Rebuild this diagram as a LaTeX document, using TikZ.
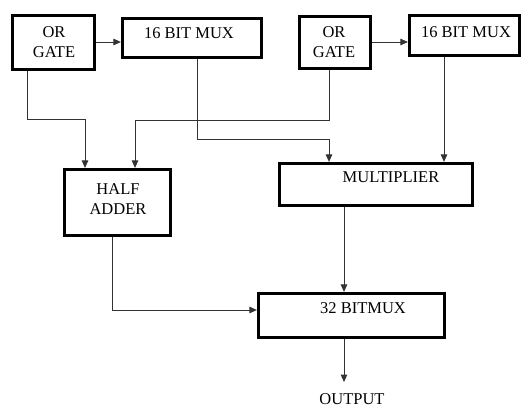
\documentclass[tikz,border=0pt]{standalone}
\usepackage{fontspec}
\setmainfont{Liberation Serif}
\usetikzlibrary{arrows.meta}
\begin{document}
\begin{tikzpicture}[x=1pt,y=-1pt,
  box/.style={draw=black,line width=3.2pt,fill=white,inner sep=0pt},
  lbl/.style={font=\fontsize{16.5}{20}\selectfont,inner sep=0pt,align=center},
  arr/.style={draw=black!80,line width=1pt,-{Triangle[length=7.5pt,width=6.5pt]}}]
\useasboundingbox (0,0) rectangle (522,407);
% boxes
\node[box,minimum width=82pt,minimum height=54pt] (or1) at (53.5,42.5) {};
\node[box,minimum width=139pt,minimum height=39pt] (mux1) at (192,38) {};
\node[box,minimum width=71pt,minimum height=52pt] (or2) at (335,42.5) {};
\node[box,minimum width=110pt,minimum height=40pt] (mux2) at (464.5,35.5) {};
\node[box,minimum width=106pt,minimum height=66pt] (ha) at (117.5,202.5) {};
\node[box,minimum width=193pt,minimum height=42pt] (mult) at (376,184.5) {};
\node[box,minimum width=186pt,minimum height=44pt] (mux32) at (351.5,315.5) {};
% labels
\node[lbl] (or1t) at (54,42) {OR\\GATE};
\node[lbl] (mux1t) at (189,33) {16 BIT MUX};
\node[lbl] (or2t) at (334,42) {OR\\GATE};
\node[lbl] (mux2t) at (466,32) {16 BIT MUX};
\node[lbl] (hat) at (118,199) {HALF\\ADDER};
\node[lbl] (multt) at (391,177) {MULTIPLIER};
\node[lbl] (mux32t) at (363,308) {32 BITMUX};
\node[lbl] (outt) at (352,399) {OUTPUT};
\coordinate (outtip) at (344,382);
% connectors
\draw[arr] (or1.east |- 0,42) -- (mux1.west |- 0,42);
\draw[arr] (or2.east |- 0,42) -- (mux2.west |- 0,42);
\draw[arr] (27,0 |- or1.south) |- (85,119) -- (85,0 |- ha.north);
\draw[arr] (329,0 |- or2.south) |- (135,120) -- (135,0 |- ha.north);
\draw[arr] (197,0 |- mux1.south) |- (329,139) -- (329,0 |- mult.north);
\draw[arr] (444,0 |- mux2.south) -- (444,0 |- mult.north);
\draw[arr] (344,0 |- mult.south) -- (344,0 |- mux32.north);
\draw[arr] (112,0 |- ha.south) |- (mux32.west |- 0,310);
\draw[arr] (344,0 |- mux32.south) -- (outtip);
\end{tikzpicture}
\end{document}
